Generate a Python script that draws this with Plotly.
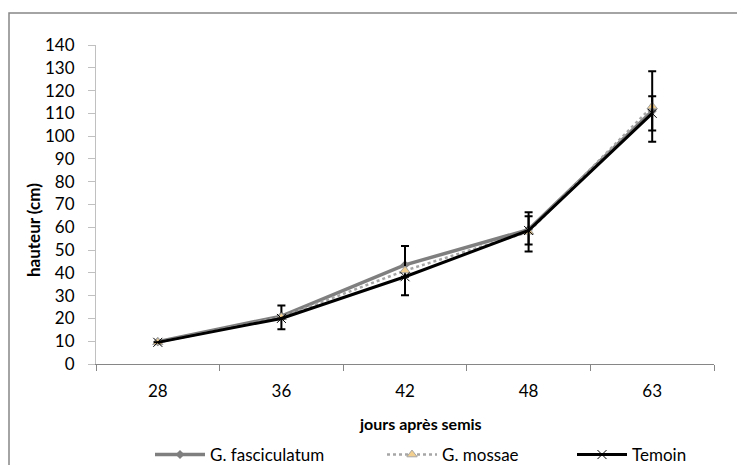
import plotly.graph_objects as go

days = ["28", "36", "42", "48", "63"]
fasciculatum = [9.8, 21, 43.5, 59, 111]
mossae = [9.5, 20.5, 41, 58, 113]
temoin = [9.5, 20, 38.3, 58.6, 110]
mossae_err = [0, 5.2, 10.8, 8.6, 15.5]
temoin_err = [0, 0, 0, 6.2, 7.5]
y_ticks = list(range(0, 141, 10))

FONT = "Lato"
FS = 17

# the page body has an 8px margin; work in reference pixels and shift
OFF = 8
W, H = 745 - OFF, 465 - OFF
L, R, T, B = 96 - OFF, 714 - OFF, 45 - OFF, 364 - OFF
PW, PH = R - L, B - T


def px(x):
    return (x - OFF - L) / PW


def py(y):
    return (B - (y - OFF)) / PH


def cy(y):
    return 1 - (y - OFF) / H


def cx(x):
    return (x - OFF) / W


fig = go.Figure()
fig.add_trace(go.Scatter(
    x=days, y=fasciculatum, name="G. fasciculatum", mode="lines+markers",
    line=dict(color="#7f7f7f", width=3.5),
    marker=dict(symbol="diamond", size=7, color="#7f7f7f"),
    legend="legend",
))
fig.add_trace(go.Scatter(
    x=days, y=mossae, name="G. mossae", mode="lines+markers",
    line=dict(color="#a6a6a6", width=2.5, dash="dot"),
    marker=dict(symbol="triangle-up", size=9, color="#f2cf8f",
                line=dict(color="#a6a6a6", width=1)),
    error_y=dict(type="data", array=mossae_err, visible=True,
                 color="#000000", thickness=2, width=4),
    legend="legend2",
))
fig.add_trace(go.Scatter(
    x=days, y=temoin, name="Temoin", mode="lines+markers",
    line=dict(color="#000000", width=3),
    marker=dict(symbol="x-thin", size=9, color="#000000",
                line=dict(color="#000000", width=1)),
    error_y=dict(type="data", array=temoin_err, visible=True,
                 color="#000000", thickness=2, width=4),
    legend="legend3",
))

legend_common = dict(orientation="h", yanchor="middle", xanchor="left",
                     xref="container", yref="container",
                     font=dict(family=FONT, size=FS, color="#000000"),
                     bgcolor="rgba(0,0,0,0)", itemwidth=50)
fig.update_layout(
    width=W, height=H,
    margin=dict(l=L, r=W - R, t=T, b=H - B, autoexpand=False),
    paper_bgcolor="white", plot_bgcolor="white",
    font=dict(family=FONT, size=FS, color="#000000"),
    showlegend=True,
    legend=dict(x=cx(150), y=cy(455), **legend_common),
    legend2=dict(x=cx(382), y=cy(455), **legend_common),
    legend3=dict(x=cx(572), y=cy(455), **legend_common),
    xaxis=dict(
        type="category", tickson="boundaries", showgrid=False,
        showline=True, linecolor="#868686", linewidth=1,
        ticks="outside", ticklen=6, tickcolor="#868686",
        tickfont=dict(family=FONT, size=FS), ticklabelstandoff=12,
        automargin=False, range=[-0.5, 4.5],
    ),
    yaxis=dict(
        range=[0, 140], tickvals=y_ticks, showgrid=False, zeroline=False,
        showline=True, linecolor="#c0c0c0", linewidth=1,
        ticks="outside", ticklen=7, tickcolor="#c0c0c0",
        tickfont=dict(family=FONT, size=FS), ticklabelstandoff=10,
        automargin=False,
    ),
    annotations=[
        dict(text="<b>jours après semis</b>", xref="paper", yref="paper",
             x=px(420), y=py(423), showarrow=False,
             xanchor="center", yanchor="middle",
             font=dict(family=FONT, size=16)),
        dict(text="<b>hauteur (cm)</b>", xref="paper", yref="paper",
             x=px(33), y=py(230), showarrow=False, textangle=-90,
             xanchor="center", yanchor="middle",
             font=dict(family=FONT, size=FS)),
    ],
    shapes=[dict(type="rect", xref="paper", yref="paper",
                 x0=px(OFF + 1), x1=px(760),
                 y0=py(480), y1=py(13),
                 line=dict(color="#868686", width=1.5),
                 fillcolor="rgba(0,0,0,0)", layer="below")],
)

fig.write_html("out.html")
